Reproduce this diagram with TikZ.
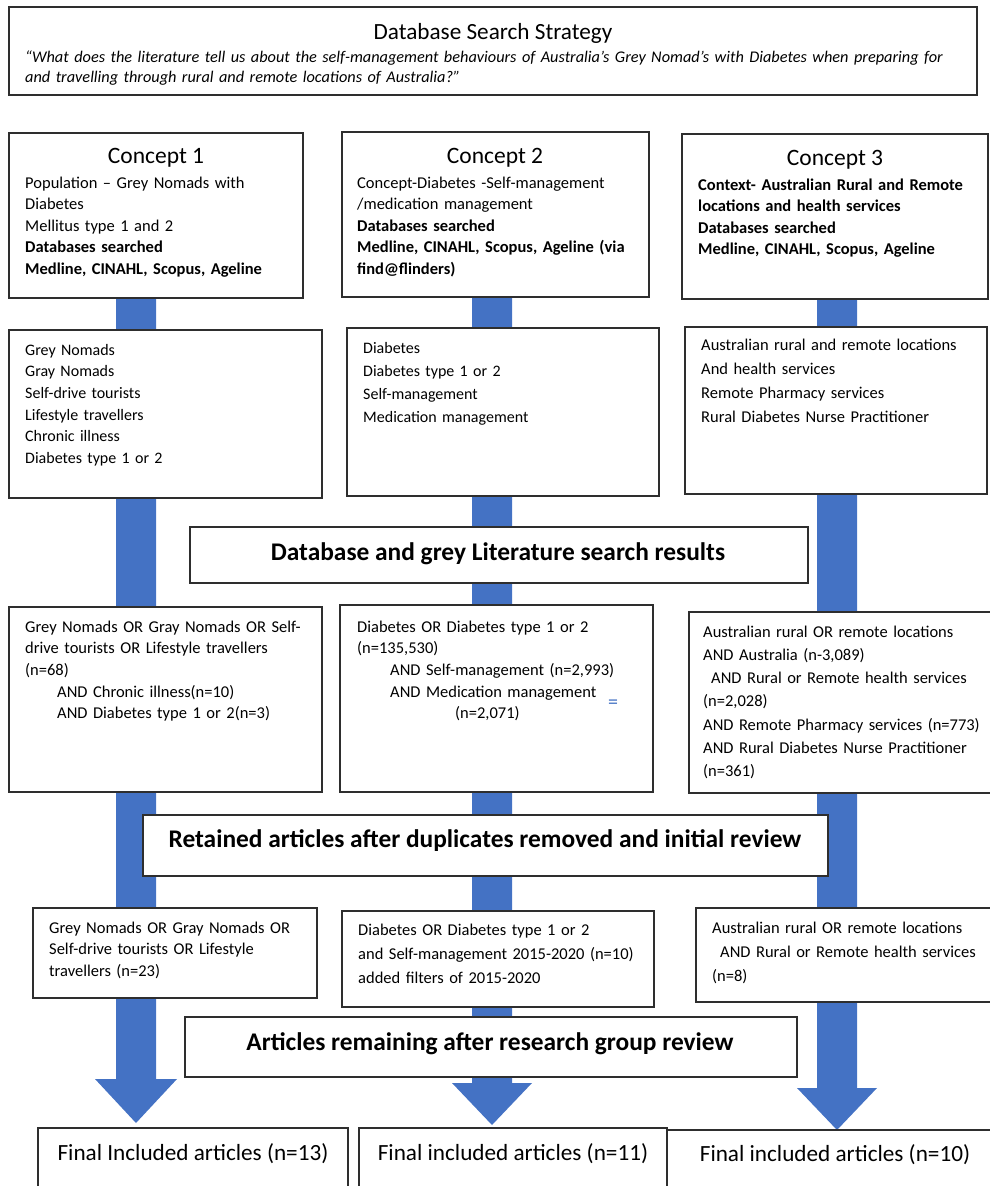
\documentclass[tikz,border=0pt]{standalone}
\usepackage{fontspec}
\setmainfont{Carlito}
\usetikzlibrary{calc}
\pgfdeclarelayer{bg}
\pgfsetlayers{bg,main}
\definecolor{arrowblue}{HTML}{4472C4}
\definecolor{boxline}{HTML}{2E2E2E}
\newcommand\mybox[5]{\node[box, minimum width={(#4-#2)*1pt}, minimum height={(#5-#3)*1pt}] (#1) at (#2,#3) {};}
\begin{document}
\begin{tikzpicture}[x=1pt,y=-1pt,
  box/.style={draw=boxline, line width=1.3pt, fill=white, anchor=north west, inner sep=0pt, outer sep=0pt},
  txt/.style={font=\fontsize{16.5}{#1}\selectfont, align=left, text width=330pt, inner sep=0pt, anchor=base west},
  txt/.default=21.7,
  ctitle/.style={font=\fontsize{23.5}{27}\selectfont, inner sep=0pt, anchor=base},
  bhead/.style={font=\fontsize{25.4}{28}\selectfont\bfseries, inner sep=0pt, anchor=base},
  ftxt/.style={font=\fontsize{23.2}{26}\selectfont, inner sep=0pt, anchor=base},
  bigarrow/.style={fill=arrowblue}]
\useasboundingbox (0,0) rectangle (990,1186);
\clip (0,0) rectangle (990,1186);

% boxes
\mybox{top}{9}{7}{977}{95}
\mybox{c1}{9}{133}{303}{298}
\mybox{c2}{342}{132}{649}{297}
\mybox{c3}{682}{134}{988}{299}
\mybox{ra}{9}{330}{322}{498}
\mybox{rb}{347}{328}{659}{496}
\mybox{rc}{685}{327}{987}{494}
\mybox{res}{190}{527}{808}{583}
\mybox{sa}{9}{607}{322}{792}
\mybox{sb}{340}{605}{653}{792}
\mybox{sc}{689}{612}{995}{793}
\mybox{ret}{143}{815}{828}{876}
\mybox{ta}{33}{908}{317}{998}
\mybox{tb}{342}{911}{654}{1007}
\mybox{tc}{696}{908}{995}{1002}
\mybox{rem}{185}{1017}{797}{1077}
\mybox{f1}{38}{1128}{348}{1200}
\mybox{f2}{359}{1128}{667}{1200}
\mybox{f3}{667}{1130}{1000}{1200}

% big arrows behind the boxes
\coordinate (s1) at ([xshift=-20pt]c1.south);
\coordinate (s2) at ([xshift=-3.5pt]c2.south);
\coordinate (s3) at ([xshift=2pt]c3.south);
\path (s1 |- f1.north) ++(0,-5) coordinate (t1);
\path (s2 |- f2.north) ++(0,-3) coordinate (t2);
\path (s3 |- f3.north) ++(0,0) coordinate (t3);
\begin{pgfonlayer}{bg}
\fill[bigarrow] ($(s1)+(-20,0)$) -- ($(s1)+(20,0)$) -- ($(t1)+(20,-44)$) -- ($(t1)+(41,-44)$) -- (t1) -- ($(t1)+(-41,-44)$) -- ($(t1)+(-20,-44)$) -- cycle;
\fill[bigarrow] ($(s2)+(-20,0)$) -- ($(s2)+(20,0)$) -- ($(t2)+(20,-42)$) -- ($(t2)+(40,-42)$) -- (t2) -- ($(t2)+(-40,-42)$) -- ($(t2)+(-20,-42)$) -- cycle;
\fill[bigarrow] ($(s3)+(-20,0)$) -- ($(s3)+(20,0)$) -- ($(t3)+(20,-42)$) -- ($(t3)+(40,-42)$) -- (t3) -- ($(t3)+(-40,-42)$) -- ($(t3)+(-20,-42)$) -- cycle;
\end{pgfonlayer}

% top box
\node[font=\fontsize{23.2}{26}\selectfont, inner sep=0pt, anchor=base] (toptitle) at (493,39) {Database Search Strategy};
\node[font=\fontsize{16.3}{20}\selectfont\itshape, align=left, text width=960pt, inner sep=0pt, anchor=base west] (question) at (25,62)
  {“What does the literature tell us about the self-management behaviours of Australia’s Grey Nomad’s with Diabetes when preparing for\\
   and travelling through rural and remote locations of Australia?”};

% concept boxes
\node[ctitle] (c1t) at (156,163) {Concept 1};
\node[ctitle] (c2t) at (495,163) {Concept 2};
\node[ctitle] (c3t) at (835,165) {Concept 3};
\node[txt=21.5] (c1b) at (25,188) {Population – Grey Nomads with\\Diabetes\\Mellitus type 1 and 2\\\textbf{Databases searched}\\\textbf{Medline, CINAHL, Scopus, Ageline}};
\node[txt=21.5] (c2b) at (357,188) {Concept-Diabetes -Self-management\\/medication management\\\textbf{Databases searched}\\\textbf{Medline, CINAHL, Scopus, Ageline (via}\\\textbf{find@flinders)}};
\node[txt=21.5] (c3b) at (698,190) {\textbf{Context- Australian Rural and Remote}\\\textbf{locations and health services}\\\textbf{Databases searched}\\\textbf{Medline, CINAHL, Scopus, Ageline}};

% search term boxes
\node[txt=21.7, font=\fontsize{16}{21.7}\selectfont] (rat) at (25,355) {Grey Nomads\\Gray Nomads\\Self-drive tourists\\Lifestyle travellers\\Chronic illness\\Diabetes type 1 or 2};
\node[txt=23.3, font=\fontsize{16}{23.3}\selectfont] (rbt) at (363,353) {Diabetes\\Diabetes type 1 or 2\\Self-management\\Medication management};
\node[txt=24] (rct) at (701,350) {Australian rural and remote locations\\And health services\\Remote Pharmacy services\\Rural Diabetes Nurse Practitioner};

\node[bhead] (rest) at (498,560) {Database and grey Literature search results};

% results boxes
\node[txt=21.7] (sat) at (25,632) {Grey Nomads OR Gray Nomads OR Self-\\drive tourists OR Lifestyle travellers\\(n=68)\\\hspace*{32pt}AND Chronic illness(n=10)\\\hspace*{32pt}AND Diabetes type 1 or 2(n=3)};
\node[txt=21.7] (sbt) at (357,632) {Diabetes OR Diabetes type 1 or 2\\(n=135,530)\\\hspace*{33pt}AND Self-management (n=2,993)\\\hspace*{33pt}AND Medication management\\\hspace*{98pt}(n=2,071)};
\node[font=\fontsize{20}{20}\selectfont, text=arrowblue, inner sep=0pt] (eqmark) at (613,704) {=};
\node[txt=23.3] (sct) at (703,637) {Australian rural OR remote locations\\AND Australia (n-3,089)\\\hspace*{8pt}AND Rural or Remote health services\\(n=2,028)\\AND Remote Pharmacy services (n=773)\\AND Rural Diabetes Nurse Practitioner\\(n=361)};

\node[bhead] (rett) at (485,847) {Retained articles after duplicates removed and initial review};

% retained boxes
\node[txt=21.7] (tat) at (49,933) {Grey Nomads OR Gray Nomads OR\\Self-drive tourists OR Lifestyle\\travellers (n=23)};
\node[txt=24] (tbt) at (358,935) {Diabetes OR Diabetes type 1 or 2\\and Self-management 2015-2020 (n=10)\\added filters of 2015-2020};
\node[txt=24] (tct) at (712,933) {Australian rural OR remote locations\\\hspace*{8pt}AND Rural or Remote health services\\(n=8)};

\node[bhead] (remt) at (490,1050) {Articles remaining after research group review};

% final boxes
\node[ftxt] (f1t) at (193,1160) {Final Included articles (n=13)};
\node[ftxt] (f2t) at (513,1160) {Final included articles (n=11)};
\node[ftxt] (f3t) at (835,1161) {Final included articles (n=10)};
\end{tikzpicture}
\end{document}
